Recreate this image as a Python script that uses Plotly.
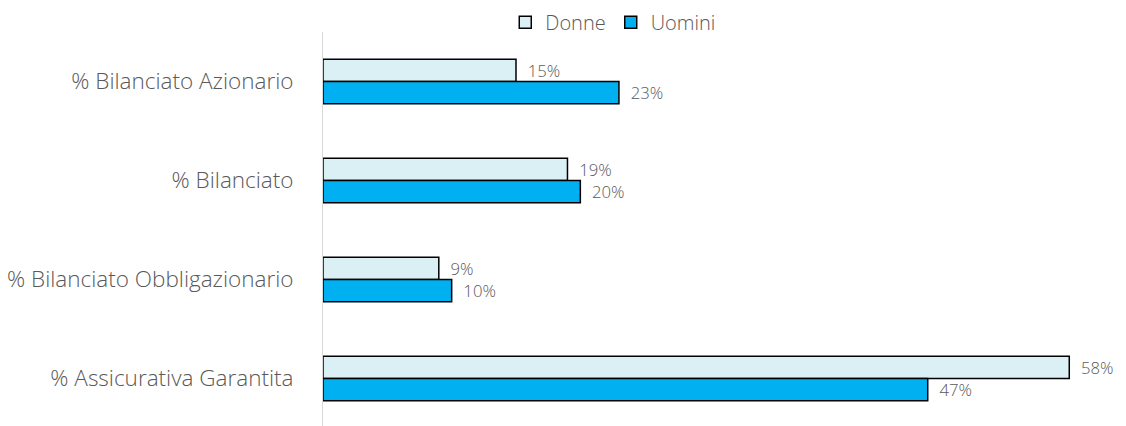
import plotly.graph_objects as go

categories = ["% Bilanciato Azionario", "% Bilanciato", "% Bilanciato Obbligazionario", "% Assicurativa Garantita"]
donne = [15, 19, 9, 58]
uomini = [23, 20, 10, 47]

font_family = "Open Sans, Lato, DejaVu Sans, sans-serif"
gray = "#595959"

fig = go.Figure()
fig.add_trace(go.Bar(
    y=categories, x=donne, name="Donne", orientation="h",
    marker=dict(color="#DAF0F5", line=dict(color="#000000", width=1.5)),
    texttemplate="  %{x}%", textposition="outside",
    textfont=dict(color=gray, size=18, family=font_family, weight=300),
    cliponaxis=False,
))
fig.add_trace(go.Bar(
    y=categories, x=uomini, name="Uomini", orientation="h",
    marker=dict(color="#00B0F0", line=dict(color="#000000", width=1.5)),
    texttemplate="  %{x}%", textposition="outside",
    textfont=dict(color=gray, size=18, family=font_family, weight=300),
    cliponaxis=False,
))

fig.update_layout(
    width=1126, height=426,
    margin=dict(l=315, r=39, t=24, b=6, autoexpand=False),
    paper_bgcolor="white", plot_bgcolor="white",
    barmode="group", bargap=0.55, bargroupgap=0,
    font=dict(family=font_family, color=gray, size=20, weight=300),
    legend=dict(orientation="h", x=0.376, xanchor="center", y=1.074, yanchor="top",
                font=dict(size=20, color=gray, family=font_family, weight=300),
                itemwidth=30, traceorder="normal", tracegroupgap=0,
                borderwidth=0, bgcolor="rgba(0,0,0,0)"),
    xaxis=dict(range=[0, 60], visible=False, showgrid=False, zeroline=False),
    yaxis=dict(autorange="reversed", showgrid=False, zeroline=False,
               showline=True, linecolor="#D9D9D9", linewidth=1,
               ticks="", ticklabelstandoff=24,
               tickfont=dict(size=22.5, color=gray, family=font_family, weight=300)),
)

fig.write_html("out.html")
